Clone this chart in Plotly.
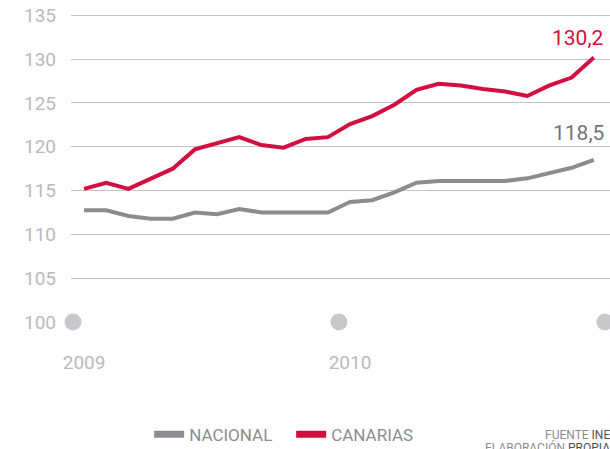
import plotly.graph_objects as go

months = list(range(24))  # Jan 2009 .. Dec 2010 (monthly)
canarias = [115.2, 115.9, 115.2, 116.3, 117.5, 119.7, 120.4, 121.1, 120.2, 119.9,
            120.9, 121.1, 122.6, 123.5, 124.8, 126.5, 127.2, 127.0, 126.6, 126.3,
            125.8, 127.0, 127.9, 130.2]
nacional = [112.75, 112.75, 112.1, 111.8, 111.8, 112.5, 112.3, 112.9, 112.5, 112.5,
            112.5, 112.5, 113.7, 113.9, 114.8, 115.9, 116.1, 116.1, 116.1, 116.1,
            116.4, 117.0, 117.6, 118.5]
year_labels = ["2009", "2010"]
year_label_pos = [0.5, 12.5]
dot_pos = [0, 12, 24]

RED = "#d20f3f"
GRAY = "#8c8c90"
TICK = "#b9b9be"

x = [m + 0.5 for m in months]

fig = go.Figure()
fig.add_trace(go.Scatter(x=dot_pos, y=[100] * len(dot_pos), mode="markers",
                         marker=dict(size=17, color="#c8c8cc"), showlegend=False,
                         cliponaxis=False, hoverinfo="skip"))
fig.add_trace(go.Scatter(x=x, y=nacional, mode="lines", name="NACIONAL",
                         line=dict(color=GRAY, width=4), cliponaxis=False, showlegend=False))
fig.add_trace(go.Scatter(x=x, y=canarias, mode="lines", name="CANARIAS",
                         line=dict(color=RED, width=4), cliponaxis=False, showlegend=False))
# legend-only entries with thicker sample bars
fig.add_trace(go.Scatter(x=[None], y=[None], mode="lines", name="NACIONAL",
                         line=dict(color=GRAY, width=7)))
fig.add_trace(go.Scatter(x=[None], y=[None], mode="lines", name="CANARIAS",
                         line=dict(color=RED, width=7)))

fig.add_annotation(x=x[-1], y=canarias[-1], text="130,2", showarrow=False,
                   xanchor="right", yanchor="middle", yshift=19, xshift=12,
                   font=dict(family="Roboto", size=21, color=RED))
fig.add_annotation(x=x[-1], y=nacional[-1], text="118,5", showarrow=False,
                   xanchor="right", yanchor="middle", yshift=27, xshift=12,
                   font=dict(family="Roboto", size=21, color="#747478"))

fig.add_annotation(xref="paper", yref="paper", x=1.0, y=-0.363, xanchor="right", yanchor="middle",
                   text="FUENTE <span style='color:#505054'>INE</span>",
                   showarrow=False, align="right", xshift=2,
                   font=dict(family="Roboto", size=12, color="#8c8c90"))
fig.add_annotation(xref="paper", yref="paper", x=1.0, y=-0.405, xanchor="right", yanchor="middle",
                   text="ELABORACIÓN <span style='color:#505054'>PROPIA</span>",
                   showarrow=False, align="right", xshift=2,
                   font=dict(family="Roboto", size=12, color="#8c8c90"))

fig.update_layout(
    width=610, height=449,
    margin=dict(l=71, r=0, t=11, b=127, autoexpand=False),
    paper_bgcolor="white", plot_bgcolor="white",
    font=dict(family="Roboto", color=TICK),
    xaxis=dict(range=[-0.09, 24.23], tickvals=year_label_pos, ticktext=year_labels,
               showgrid=False, zeroline=False, showline=False,
               ticks="", ticklabelstandoff=27,
               tickfont=dict(family="Roboto", size=19, color=TICK)),
    yaxis=dict(range=[100, 135.5], tickvals=[100, 105, 110, 115, 120, 125, 130, 135],
               showgrid=True, gridcolor="#c4c4c8", gridwidth=1, zeroline=False,
               showline=False, ticks="", ticklabelstandoff=14,
               tickfont=dict(family="Roboto", size=19, color=TICK)),
    legend=dict(orientation="h", x=0.145, y=-0.362, yanchor="middle", xanchor="left",
                font=dict(family="Roboto", size=17, color="#8c8c90"),
                entrywidth=97, entrywidthmode="pixels", traceorder="normal"),
    showlegend=True,
)

fig.write_html("out.html", config={"displayModeBar": False},
               post_script="document.body.style.margin='0px';document.body.style.overflow='hidden';")
